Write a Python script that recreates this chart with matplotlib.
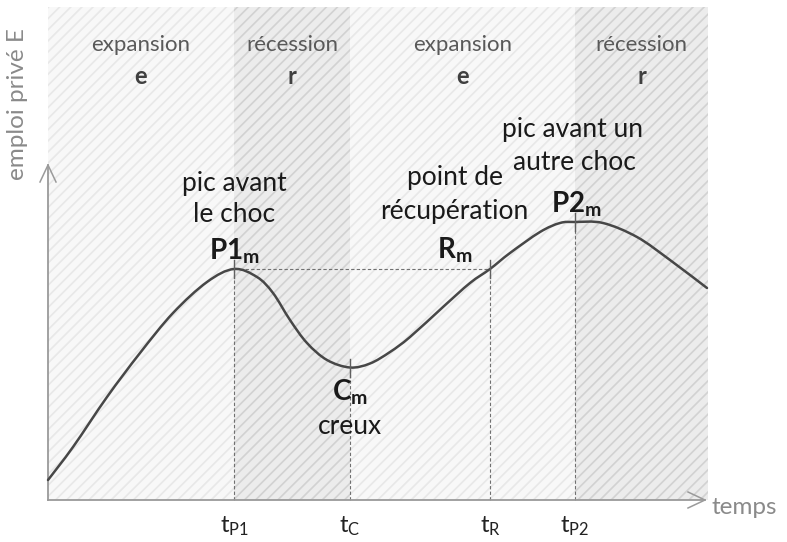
import matplotlib
matplotlib.use("Agg")
import matplotlib.pyplot as plt
from matplotlib.patches import Rectangle, PathPatch
from matplotlib.path import Path

plt.rcParams['font.family'] = ['Lato', 'DejaVu Sans']
plt.rcParams['mathtext.fontset'] = 'custom'
plt.rcParams['mathtext.rm'] = 'Lato'
plt.rcParams['mathtext.bf'] = 'Lato:bold'
plt.rcParams['mathtext.it'] = 'Lato:italic'
plt.rcParams['hatch.linewidth'] = 1.2

# ---- data (time offset, employment level) ----
t_curve = [0, 25, 59, 92, 125, 159, 186, 209, 225, 242, 259, 279, 302, 322, 342,
           362, 395, 422, 442, 462, 492, 512, 527, 555, 589, 622, 659]
E_curve = [20, 53, 103, 147, 187, 218, 231, 223, 207, 180, 157, 140, 132.5, 136.5, 148,
           163, 193, 217, 231, 247, 268, 277, 278, 277, 263, 240, 212]

key_names = ["P1", "C", "R", "P2"]
key_t = [186, 302, 442, 527]
key_E = [231, 132.5, 231, 278]
tick_labels = [r"$\mathrm{t_{P1}}$", r"$\mathrm{t_{C}}$", r"$\mathrm{t_{R}}$", r"$\mathrm{t_{P2}}$"]

phase_bounds = [0, 186, 302, 527, 660]
phase_names = ["expansion", "récession", "expansion", "récession"]
phase_letters = ["e", "r", "e", "r"]

fig = plt.figure(figsize=(7.87, 5.42), dpi=100)
ax = fig.add_axes([0, 0, 1, 1])
ax.set_xlim(-48, 739)
ax.set_ylim(-42, 500)
ax.axis('off')

top = 493
# phase shading
for i, kind in enumerate(phase_letters):
    x0, x1 = phase_bounds[i], phase_bounds[i + 1]
    if kind == "e":
        fc, hc = '#f8f8f8', '#e8e8e8'
    else:
        fc, hc = '#ececec', '#d2d2d2'
    ax.add_patch(Rectangle((x0, 0), x1 - x0, top, facecolor=fc, edgecolor='none', zorder=0))
    ax.add_patch(Rectangle((x0, 0), x1 - x0, top, facecolor='none', edgecolor=hc,
                           hatch='///', linewidth=0, zorder=0.5))
    xc = (x0 + x1) / 2
    ax.text(xc, 455, phase_names[i], ha='center', va='center', fontsize=16, color='#595959')
    ax.text(xc, 423, phase_letters[i], ha='center', va='center', fontsize=17,
            fontweight='bold', color='#404040')

# axes arrows
axc = '#9a9a9a'
ax.plot([0, 0], [0, 335], color=axc, lw=1.3, zorder=3)
ax.plot([0, 657], [0, 0], color=axc, lw=1.3, zorder=3)
ax.plot([-8, 0, 8], [318, 335, 318], color=axc, lw=1.1, zorder=3)
ax.plot([640, 657, 640], [8, 0, -8], color=axc, lw=1.1, zorder=3)
ax.text(-30, 396, "emploi privé E", rotation=90, ha='center', va='center',
        fontsize=17.5, color='#8a8a8a')
ax.text(664, -8, "temps", ha='left', va='center', fontsize=17.5, color='#8a8a8a')

# dashed guides
for t, E in zip(key_t, key_E):
    ax.plot([t, t], [0, E], color='#707070', lw=0.8, ls=(0, (3, 2)), zorder=2)
ax.plot([key_t[0], key_t[2]], [key_E[0], key_E[2]], color='#707070', lw=0.8,
        ls=(0, (3, 2)), zorder=2)

# curve: smooth Catmull-Rom drawing through the read points
pts = list(zip(t_curve, E_curve))
verts = [pts[0]]
codes = [Path.MOVETO]
n = len(pts)
for i in range(n - 1):
    p0 = pts[i - 1] if i > 0 else pts[i]
    p1 = pts[i]
    p2 = pts[i + 1]
    p3 = pts[i + 2] if i + 2 < n else pts[i + 1]
    c1 = (p1[0] + (p2[0] - p0[0]) / 6, p1[1] + (p2[1] - p0[1]) / 6)
    c2 = (p2[0] - (p3[0] - p1[0]) / 6, p2[1] - (p3[1] - p1[1]) / 6)
    verts += [c1, c2, p2]
    codes += [Path.CURVE4] * 3
ax.add_patch(PathPatch(Path(verts, codes), facecolor='none', edgecolor='#474747',
                       lw=1.8, zorder=4, capstyle='round'))

# small tick marks on curve
for t, E in zip(key_t, key_E):
    ax.plot([t, t], [E - 9, E + 9], color='#606060', lw=1.0, zorder=5)

# tick labels
for t, lab in zip(key_t, tick_labels):
    ax.text(t, -26, lab, ha='center', va='center', fontsize=17, color='#222222')

# annotations
tc = '#1a1a1a'
fs = 19
fb = 20
ax.text(186, 317, "pic avant", ha='center', va='center', fontsize=fs, color=tc)
ax.text(186, 285, "le choc", ha='center', va='center', fontsize=fs, color=tc)
ax.text(186, 249, r"$\mathbf{P1_m}$", ha='center', va='center', fontsize=fb, color=tc)

ax.text(407, 322, "point de", ha='center', va='center', fontsize=fs, color=tc)
ax.text(406, 288, "récupération", ha='center', va='center', fontsize=fs, color=tc)
ax.text(407, 250, r"$\mathbf{R_m}$", ha='center', va='center', fontsize=fb, color=tc)

ax.text(525, 370, "pic avant un", ha='center', va='center', fontsize=fs, color=tc)
ax.text(526, 337, "autre choc", ha='center', va='center', fontsize=fs, color=tc)
ax.text(528, 296, r"$\mathbf{P2_m}$", ha='center', va='center', fontsize=fb, color=tc)

ax.text(302, 108, r"$\mathbf{C_m}$", ha='center', va='center', fontsize=fb, color=tc)
ax.text(302, 73, "creux", ha='center', va='center', fontsize=fs, color=tc)

fig.savefig("out.png", dpi=100)
